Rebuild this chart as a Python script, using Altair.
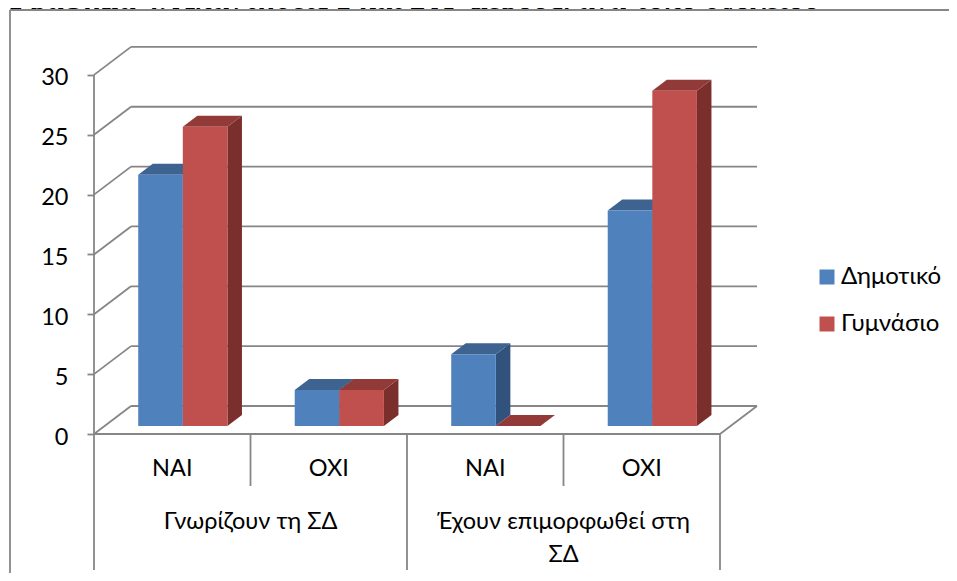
import altair as alt
import pandas as pd

# ---- values ----
SUBCATEGORIES = ["ΝΑΙ", "ΌΧΙ", "ΝΑΙ", "ΌΧΙ"]
GROUP_LINES = [("Γνωρίζουν τη ΣΔ", 1.0, 0), ("Έχουν επιμορφωθεί στη", 3.0, 0), ("ΣΔ", 3.0, 1)]
SERIES = ["Δημοτικό", "Γυμνάσιο"]
DIMOTIKO = [21, 3, 6, 18]
GYMNASIO = [25, 3, 0, 28]
Y_TICKS = [0, 5, 10, 15, 20, 25, 30]
TITLE = "Γράφημα 4. Απαντήσεις 1 και 2 Α' μέρους, ανά τύπο σχολείου"

# ---- style ----
FRONT = ["#4F81BD", "#C0504D"]
TOP = ["#3E6391", "#923A38"]
SIDE = ["#31527D", "#7A2F2D"]
LINE = "#868686"
LW = 1.8
FONT = "Lato"
FS = 23.5

# ---- layout: scale mapping and pseudo-3D depth ----
W, H = 941, 565
PX_X, PX_Y = 156.5, 11.97          # pixels per category / per value unit
X0, Y0 = 86.0, 426.0               # plot-area position of (0, 0)
DX, DY = 37 / PX_X, 28 / PX_Y      # full floor depth in data units
BAR_AT, BAR_DEPTH = 8 / 28, 11 / 28
BAR_W = 44.6 / PX_X

x_scale = alt.Scale(domain=[-X0 / PX_X, (W - X0) / PX_X], nice=False, zero=False)
y_scale = alt.Scale(domain=[(Y0 - H) / PX_Y, Y0 / PX_Y], nice=False, zero=False)
y_axis = alt.Axis(values=Y_TICKS, offset=-X0, domain=False, grid=False, ticks=True, zindex=1,
                  tickSize=7, tickColor=LINE, tickWidth=LW, labelColor="black",
                  labelFont=FONT, labelFontSize=FS, labelPadding=19, labelOffset=3, title=None)
X = lambda f: alt.X(f, type="quantitative", scale=x_scale, axis=None, stack=None)
Y = lambda f: alt.Y(f, type="quantitative", scale=y_scale, axis=y_axis, stack=None, title=None)

# ---- bars as front, top and side faces ----
fronts, tops, sides = [], [], []
for s, values in enumerate([DIMOTIKO, GYMNASIO]):
    for i, v in enumerate(values):
        xc = i + 0.5 + BAR_AT * DX
        base = BAR_AT * DY
        xl = xc + (s - 1) * BAR_W
        xr = xl + BAR_W
        top = base + v
        ox, oy = BAR_DEPTH * DX, BAR_DEPTH * DY
        key = f"{s}-{i}"
        fronts.append(dict(series=SERIES[s], order=s, x=xl, x2=xr, y=base, y2=top))
        tops.append(dict(key=key, c=TOP[s], x=xl, x2=xr, y=top))
        tops.append(dict(key=key, c=TOP[s], x=xl + ox, x2=xr + ox, y=top + oy))
        sides.append(dict(key=key, c=SIDE[s], x=xr, y=base, y2=top))
        sides.append(dict(key=key, c=SIDE[s], x=xr + ox, y=base + oy, y2=top + oy))

side_layer = alt.Chart(pd.DataFrame(sides)).mark_area(orient="vertical", strokeWidth=0).encode(
    x=X("x"), y=Y("y"), y2="y2", detail="key:N", color=alt.Color("c:N", scale=None)
)
top_layer = alt.Chart(pd.DataFrame(tops)).mark_area(orient="horizontal", strokeWidth=0).encode(
    x=X("x"), x2="x2", y=Y("y"), detail="key:N", color=alt.Color("c:N", scale=None)
)
front_layer = alt.Chart(pd.DataFrame(fronts)).mark_bar(strokeWidth=0).encode(
    x=X("x"), x2="x2", y=Y("y"), y2="y2",
    color=alt.Color("series:N", scale=alt.Scale(domain=SERIES, range=FRONT),
                    legend=alt.Legend(orient="none", legendX=807, legendY=257, title=None,
                                      symbolType="square", symbolSize=225, symbolStrokeWidth=0,
                                      labelFont=FONT, labelFontSize=24, labelColor="black",
                                      rowPadding=23, labelOffset=2)),
    order="order:Q",
)

# ---- walls, floor and dividers ----
N = len(SUBCATEGORIES)
back = pd.DataFrame([dict(x=DX, x2=N + DX, y=t + DY) for t in Y_TICKS])
back_layer = alt.Chart(back).mark_rule(color=LINE, strokeWidth=LW).encode(x=X("x"), x2="x2", y=Y("y"))

diag = pd.DataFrame(
    [dict(x=0, x2=DX, y=t, y2=t + DY) for t in Y_TICKS] + [dict(x=N, x2=N + DX, y=0, y2=DY)]
)
diag_layer = alt.Chart(diag).mark_rule(color=LINE, strokeWidth=LW).encode(
    x=X("x"), x2="x2", y=Y("y"), y2="y2"
)

floor = pd.DataFrame([dict(x=0, x2=N, y=0)])
floor_layer = alt.Chart(floor).mark_rule(color=LINE, strokeWidth=LW).encode(x=X("x"), x2="x2", y=Y("y"))

SHORT_END, LONG_END = -52 / PX_Y, -136 / PX_Y
dividers = pd.DataFrame(
    [dict(x=0, y=30, y2=LONG_END), dict(x=1, y=0, y2=SHORT_END), dict(x=2, y=0, y2=LONG_END),
     dict(x=3, y=0, y2=SHORT_END), dict(x=4, y=0, y2=LONG_END)]
)
div_layer = alt.Chart(dividers).mark_rule(color=LINE, strokeWidth=LW).encode(
    x=X("x"), y=Y("y"), y2="y2"
)

# ---- category labels ----
sub = pd.DataFrame([dict(x=i + 0.5, t=t, yv=(Y0 - 461) / PX_Y) for i, t in enumerate(SUBCATEGORIES)])
sub_layer = alt.Chart(sub).mark_text(font=FONT, fontSize=FS, color="black", baseline="middle").encode(
    x=X("x"), y=Y("yv"), text="t:N"
)
grp_rows = pd.DataFrame([dict(x=x, t=t, yv=(Y0 - 514 - r * 33) / PX_Y) for t, x, r in GROUP_LINES])
grp_layer = alt.Chart(grp_rows).mark_text(font=FONT, fontSize=FS, color="black", baseline="middle").encode(
    x=X("x"), y=Y("yv"), text="t:N"
)

# ---- heading cut by the chart's white panel, then the outer frame ----
one = pd.DataFrame({"a": [0]})
title = alt.Chart(pd.DataFrame({"t": [TITLE]})).mark_text(
    font="Liberation Serif", fontWeight="bold", fontSize=31, align="left", baseline="alphabetic", color="black"
).encode(x=alt.value(2), y=alt.value(1), text="t:N")
panel = alt.Chart(one).mark_rect(color="white").encode(
    x=alt.value(2), x2=alt.value(W), y=alt.value(2), y2=alt.value(H)
)
frame_l = alt.Chart(one).mark_rule(color=LINE, strokeWidth=LW).encode(
    x=alt.value(2), y=alt.value(2), y2=alt.value(H)
)
frame_t = alt.Chart(one).mark_rule(color=LINE, strokeWidth=LW).encode(
    x=alt.value(2), x2=alt.value(W), y=alt.value(2)
)

chart = alt.layer(
    title, panel, frame_l, frame_t, back_layer, diag_layer, floor_layer, div_layer,
    side_layer, top_layer, front_layer, sub_layer, grp_layer,
).properties(
    width=W, height=H, padding=0, background="white", autosize=alt.AutoSizeParams(type="none")
).configure_view(stroke=None)

chart.save("out.html", embed_options={"renderer": "svg", "actions": False})
